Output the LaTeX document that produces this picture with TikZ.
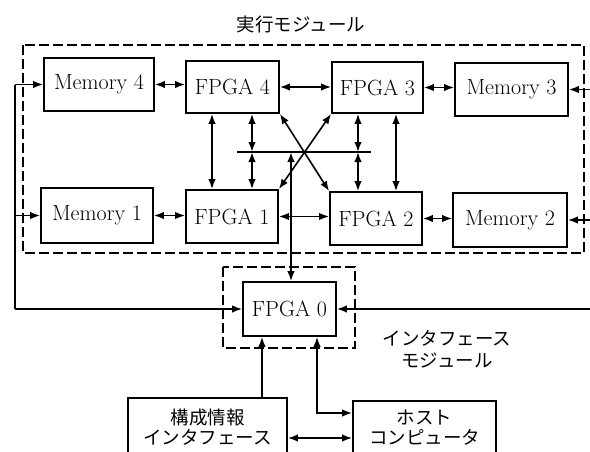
\documentclass[tikz,border=0pt]{standalone}
\usepackage{fontspec}
\newfontfamily\jp{Noto Sans CJK JP}
\usetikzlibrary{arrows.meta}
\begin{document}
\begin{tikzpicture}[x=1pt,y=-1pt,
  box/.style={draw,line width=1.8pt,inner sep=0pt,font=\fontsize{22}{26}\selectfont},
  frame/.style={draw,line width=1.2pt,dash pattern=on 10pt off 4pt},
  conn/.style={line width=1.6pt},
  tip/.style={conn,{Latex[length=10pt,width=7.5pt]}-{Latex[length=10pt,width=7.5pt]}},
  tipr/.style={conn,-{Latex[length=10pt,width=7.5pt]}},
  jtext/.style={font=\jp\fontsize{18.5}{22}\selectfont,align=center,inner sep=0pt}]
\useasboundingbox (0,0) rectangle (590,451);
% frames
\draw[frame] (23,45) rectangle (584,253);
\draw[frame] (223,267) rectangle (355,348);
% labels
\node[jtext] (title) at (301,24) {実行モジュール};
\node[jtext] (ifmod) at (447,349) {インタフェース\\モジュール};
% boxes
\node[box,minimum width=110pt,minimum height=53pt] (M4) at (99,84.5) {Memory 4};
\node[box,minimum width=93pt,minimum height=52pt] (F4) at (232.5,87) {FPGA 4};
\node[box,minimum width=91pt,minimum height=51pt] (F3) at (377.5,87.5) {FPGA 3};
\node[box,minimum width=113pt,minimum height=53pt] (M3) at (511.5,89.5) {Memory 3};
\node[box,minimum width=112pt,minimum height=55pt] (M1) at (97,215.5) {Memory 1};
\node[box,minimum width=92pt,minimum height=53pt] (F1) at (232,216.5) {FPGA 1};
\node[box,minimum width=92pt,minimum height=53pt] (F2) at (376,218.5) {FPGA 2};
\node[box,minimum width=114pt,minimum height=54pt] (M2) at (510,220) {Memory 2};
\node[box,minimum width=93pt,minimum height=54pt] (F0) at (289.5,309) {FPGA 0};
\node[box,minimum width=159pt,minimum height=58pt,font=\jp\fontsize{18.5}{20}\selectfont,align=center] (cfg) at (207.5,427) {構成情報\\インタフェース};
\node[box,minimum width=143pt,minimum height=54pt,font=\jp\fontsize{18.5}{20}\selectfont,align=center] (host) at (424.5,428) {ホスト\\コンピュータ};
% helper coordinates
\coordinate (L) at (15,0);
\coordinate (R) at (592,0);
\coordinate (c1) at (212,152);
\coordinate (v1) at (252,152);
\coordinate (v0) at (291,152);
\coordinate (v2) at (358,152);
\coordinate (c2) at (396,152);
\coordinate (busL) at (237,152);
\coordinate (busR) at (371,152);
\coordinate (b1) at (262,0);
\coordinate (b2) at (317,0);
\coordinate (hy) at (0,413);
\coordinate (h2) at (0,438);
% horizontal links
\draw[tip] (M4.east) -- (M4.east -| F4.west);
\draw[tip] (F4.east) -- (F4.east -| F3.west);
\draw[tip] (F3.east) -- (F3.east -| M3.west);
\draw[tip] (M1.east) -- (M1.east -| F1.west);
\draw[tip] (F1.east) -- (F1.east -| F2.west);
\draw[tip] (F2.east) -- (F2.east -| M2.west);
% bus
\draw[conn] (busL) -- (busR);
\draw[tip] (c1 |- F4.south) -- (c1 |- F1.north);
\draw[tip] (c2 |- F3.south) -- (c2 |- F2.north);
\draw[tip] (v1 |- F4.south) -- (v1);
\draw[tip] (v1) -- (v1 |- F1.north);
\draw[tip] (v2 |- F3.south) -- (v2);
\draw[tip] (v2) -- (v2 |- F2.north);
\draw[tip] (F4.south east) -- (F2.north west);
\draw[tip] (F1.north east) -- (F3.south west);
\draw[tip] (v0) -- (v0 |- F0.north);
% left loop
\draw[conn] (M4.west -| L) -- (L |- F0.west);
\draw[tipr] (M4.west -| L) -- (M4.west);
\draw[tipr] (M1.west -| L) -- (M1.west);
\draw[tipr] (L |- F0.west) -- (F0.west);
% right inputs
\draw[tipr] (M3.east -| R) -- (M3.east);
\draw[tipr] (M2.east -| R) -- (M2.east);
\draw[tipr] (F0.east -| R) -- (F0.east);
% bottom
\draw[tipr] (cfg.north -| b1) -- (F0.south -| b1);
\draw[tip] (F0.south -| b2) |- (host.west |- hy);
\draw[tip] (cfg.east |- h2) -- (host.west |- h2);
\end{tikzpicture}
\end{document}
